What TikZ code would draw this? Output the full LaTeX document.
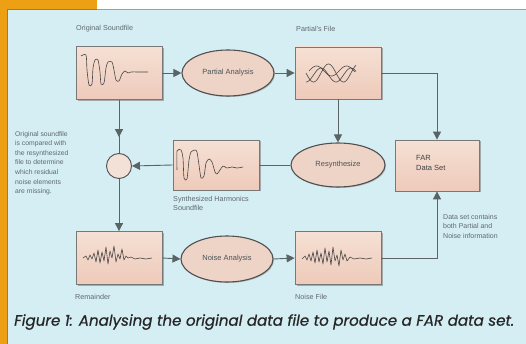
\documentclass[tikz,border=0pt]{standalone}
\usepackage{fontspec}
\setmainfont{Liberation Sans}
\newfontfamily\capfont{Poppins}
\usetikzlibrary{shapes.geometric,arrows.meta,shadows,decorations.markings}
\definecolor{bgblue}{RGB}{212,238,243}
\definecolor{orng}{RGB}{238,160,20}
\definecolor{orngdk}{RGB}{170,120,40}
\definecolor{framegray}{RGB}{150,160,160}
\definecolor{boxfill}{RGB}{238,202,186}
\definecolor{boxfilltop}{RGB}{245,224,212}
\definecolor{boxedge}{RGB}{120,120,120}
\definecolor{ellfill}{RGB}{238,212,198}
\definecolor{elledge}{RGB}{80,80,80}
\definecolor{txtgray}{RGB}{95,105,110}
\definecolor{wave}{RGB}{70,70,70}
\definecolor{linegray}{RGB}{90,100,100}
\tikzset{
  filebox/.style={draw=boxedge, line width=0.8pt, top color=boxfilltop, bottom color=boxfill,
    minimum width=86pt, minimum height=53pt, inner sep=0pt,
    drop shadow={shadow xshift=1.5pt, shadow yshift=-1.5pt, fill=black!45, opacity=0.7}},
  process/.style={ellipse, draw=elledge, line width=1.1pt, fill=ellfill,
    minimum width=92pt, minimum height=46pt, inner sep=0pt, text=txtgray!80!black,
    font=\fontsize{7.5}{9}\selectfont,
    drop shadow={shadow xshift=1pt, shadow yshift=-1pt, fill=black!40, opacity=0.6}},
  lbl/.style={text=txtgray, font=\fontsize{7.2}{9.5}\selectfont, inner sep=0pt, align=left},
  conn/.style={draw=linegray, line width=0.9pt},
  arr/.style={conn, -{Triangle[length=8pt,width=8pt]}},
  wv/.style={draw=wave, line width=0.6pt, line join=round}
}
\begin{document}
\begin{tikzpicture}[x=1pt,y=-1pt]
\useasboundingbox (0,0) rectangle (526,344);
% background
\fill[bgblue] (0,0) rectangle (526,344);
\fill[white] (97,0) rectangle (526,9);
\fill[orng] (0,0) rectangle (97,9);
\fill[orng] (0,0) rectangle (7,344);
\draw[framegray, line width=1.2pt] (97,9.5) -- (526,9.5);
\draw[orngdk, line width=1pt] (7,9.5) -- (97,9.5);
\draw[orngdk, line width=1pt] (7.5,9) -- (7.5,344);

% nodes
\node[filebox] (orig) at (119,73) {};
\node[process] (pa) at (228,73) {Partial Analysis};
\node[filebox, minimum height=52pt] (pf) at (338,73) {};
\node[filebox, minimum width=84pt, minimum height=51pt] (far) at (437,165.5) {};
\node[process, minimum width=94pt, minimum height=44pt] (resyn) at (338,165) {Resynthesize};
\node[filebox, minimum height=50pt] (synth) at (216,165) {};
\node[circle, draw=elledge, line width=0.9pt, fill=ellfill!70!white, minimum size=25pt, inner sep=0pt] (circ) at (119,166) {};
\node[filebox] (rem) at (119,258) {};
\node[process] (na) at (227,259) {Noise Analysis};
\node[filebox] (nf) at (338,258) {};

% labels
\node[lbl, anchor=west] (lorig) at (76,29) {Original Soundfile};
\node[lbl, anchor=west] (lpf) at (296,29) {Partial's File};
\node[lbl, anchor=north west] (lsynth) at (173,196) {Synthesized Harmonics\\Soundfile};
\node[lbl, anchor=west] (lrem) at (75,297) {Remainder};
\node[lbl, anchor=west] (lnf) at (295,297) {Noise File};
\node[lbl, anchor=north west, text=black!75, font=\fontsize{7.5}{10}\selectfont] (lfar) at (416,155) {FAR\\Data Set};
\node[lbl, anchor=north west, font=\fontsize{7}{9.6}\selectfont] (lds) at (443,214) {Data set contains\\both Partial and\\Noise information};
\node[lbl, anchor=north west, font=\fontsize{6.8}{9.6}\selectfont] (lleft) at (15,131) {Original soundfile\\is compared with\\the resynthesized\\file to determine\\which residual\\noise elements\\are missing.};
\node[anchor=west, inner sep=0pt, text=black!85] (cap) at (14,322) {\resizebox{500pt}{!}{\capfont\itshape\addfontfeature{FakeBold=0.7}Figure 1: Analysing the original data file to produce a FAR data set.}};

% connectors
\draw[arr] (orig.east) -- (pa.west);
\draw[arr] (pa.east) -- (pf.west);
\draw[arr] (pf.east) -| (far.north);
\draw[arr] (pf.south) -- (resyn.north);
\draw[conn] (resyn.west) -- (synth.east);
\draw[arr] (synth.west) -- (circ.east);
\draw[conn, postaction={decorate}, decoration={markings, mark=at position 0.7 with {\arrow{Triangle[length=8pt,width=8pt]}}}] (orig.south) -- (circ.north);
\draw[arr] (circ.south) -- (rem.north);
\draw[arr] (rem.east) -- (na.west);
\draw[arr] (na.east) -- (nf.west);
\draw[arr] (nf.east) -| (far.south);

% waveforms
\draw[wv] plot[smooth, tension=0.45] coordinates {(81,56) (86,55) (87,70) (89,85) (92,84) (93,68) (95,60) (98,60) (100,72) (101,84) (104,83) (106,68) (108,62) (112,62) (114,70) (116,80) (119,81) (122,74) (125,71) (128,73) (131,72) (140,72) (148,72)};
\draw[wv] plot[domain=0:50, samples=80, smooth] ({306+\x},{73+9*sin(\x*12)});
\draw[wv] plot[domain=0:50, samples=80, smooth] ({306+\x},{75+7*sin(\x*12+90)});
\draw[wv] plot[domain=0:46, samples=80, smooth] ({309+\x},{71+5*sin(\x*12+180)});
\draw[wv] plot[smooth, tension=0.4] coordinates {(177,170) (177,151) (181,150) (183,158) (184,178) (187,179) (189,160) (191,152) (195,150) (197,152) (199,165) (201,178) (204,176) (206,163) (209,159) (212,162) (215,172) (217,174) (220,170) (223,166) (227,168) (232,167) (237,168) (243,167)};
\draw[wv] plot coordinates {(83,258) (86,256) (88,260) (90,255) (92,259) (94,253) (96,262) (98,250) (100,263) (102,252) (104,261) (106,247) (108,264) (110,251) (112,258) (114,246) (116,262) (118,254) (120,259) (122,249) (124,260) (126,256) (128,258) (131,257) (135,259) (140,258) (146,259) (152,258)};
\draw[wv] plot coordinates {(302,259) (305,256) (307,260) (309,254) (311,261) (313,252) (315,263) (317,250) (319,262) (321,253) (323,264) (325,248) (327,262) (329,251) (331,265) (333,247) (335,261) (337,255) (339,266) (341,250) (343,260) (345,254) (347,261) (350,257) (354,259) (360,258) (366,259) (372,258)};
\end{tikzpicture}
\end{document}
